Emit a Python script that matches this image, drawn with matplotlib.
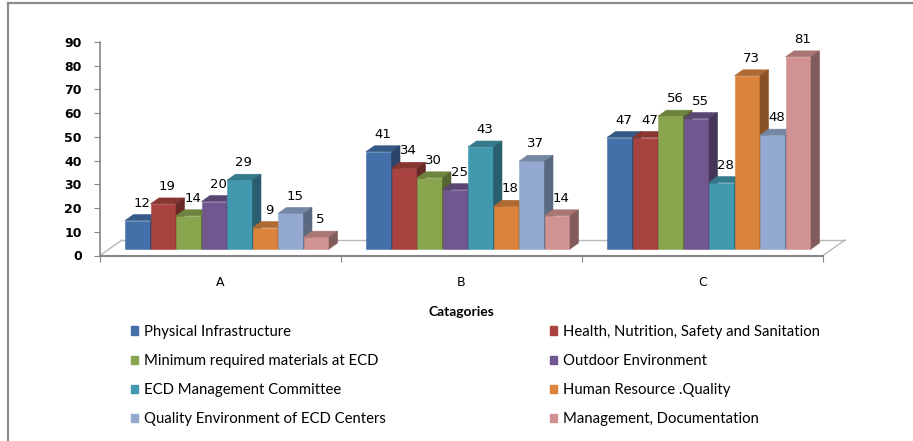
import numpy as np
import matplotlib
matplotlib.use('Agg')
import matplotlib.pyplot as plt
from matplotlib.patches import Polygon, Patch
from matplotlib.lines import Line2D
from matplotlib.colors import to_rgb

categories = ['A', 'B', 'C']
series_names = ['Physical Infrastructure',
                'Health, Nutrition, Safety and Sanitation',
                'Minimum required materials at ECD',
                'Outdoor Environment',
                'ECD Management Committee',
                'Human Resource .Quality',
                'Quality Environment of ECD Centers',
                'Management, Documentation']
physical = [12, 41, 47]
health = [19, 34, 47]
materials = [14, 30, 56]
outdoor = [20, 25, 55]
committee = [29, 43, 28]
human_resource = [9, 18, 73]
quality_env = [15, 37, 48]
management = [5, 14, 81]
series_values = [physical, health, materials, outdoor,
                 committee, human_resource, quality_env, management]
series_colors = ['#4470A9', '#A9433F', '#89A54E', '#70578F',
                 '#4198AF', '#DB843D', '#93A9CF', '#D19392']

# figure layout, in pixels
W, H = 913, 441
AX_L, AX_R, AX_T, AX_B = 100, 823, 42, 255.5
YMAX = 90
px_x = (AX_R - AX_L) / len(categories)
px_y = (AX_B - AX_T) / YMAX

bar_w = 25.5 / px_x
group_start = 25 / px_x
base = 6.5 / px_y
dep_x, dep_y = 8.5 / px_x, 6 / px_y
floor_dx, floor_dy = 22 / px_x, 15.5 / px_y


def shade(c, k):
    r, g, b = to_rgb(c)
    return (r * k, g * k, b * k)


fig = plt.figure(figsize=(W / 100, H / 100), dpi=100)
ax = fig.add_axes([AX_L / W, (H - AX_B) / H, (AX_R - AX_L) / W, (AX_B - AX_T) / H])
ax.set_xlim(0, len(categories))
ax.set_ylim(0, YMAX)

# floor of the 3d box
n = len(categories)
floor_kw = dict(color='#b8b8b8', lw=1, clip_on=False, zorder=1)
ax.plot([floor_dx, n + floor_dx], [floor_dy, floor_dy], **floor_kw)
ax.plot([0, floor_dx], [0, floor_dy], **floor_kw)
ax.plot([n, n + floor_dx], [0, floor_dy], **floor_kw)

for j in range(n):
    for i, vals in enumerate(series_values):
        v = vals[j]
        c = series_colors[i]
        x0 = j + group_start + i * bar_w
        y0, y1 = base, base + v
        front = [(x0, y0), (x0 + bar_w, y0), (x0 + bar_w, y1), (x0, y1)]
        top = [(x0, y1), (x0 + bar_w, y1), (x0 + bar_w + dep_x, y1 + dep_y), (x0 + dep_x, y1 + dep_y)]
        side = [(x0 + bar_w, y0), (x0 + bar_w + dep_x, y0 + dep_y),
                (x0 + bar_w + dep_x, y1 + dep_y), (x0 + bar_w, y1)]
        for pts, col in ((front, c), (top, shade(c, 0.8)), (side, shade(c, 0.62))):
            ax.add_patch(Polygon(pts, closed=True, facecolor=col, edgecolor=col,
                                 lw=0.4, clip_on=False, zorder=2))
        ax.annotate(str(v), xy=(x0 + bar_w / 2, y1), xytext=(3, 12.5),
                    textcoords='offset points', ha='center', va='center',
                    fontsize=9.5, color='black', zorder=5)

for s in ('top', 'right'):
    ax.spines[s].set_visible(False)
ax.spines['left'].set_color('#868686')
ax.spines['bottom'].set_color('#868686')
ax.spines['left'].set_linewidth(1.2)
ax.spines['bottom'].set_linewidth(1.5)

ax.set_yticks(np.arange(0, YMAX + 1, 10))
ax.tick_params(axis='y', direction='out', length=4, color='#868686', pad=9,
               labelsize=9)
for lab in ax.get_yticklabels():
    lab.set_fontweight('bold')

ax.set_xticks(np.arange(n + 1))
ax.set_xticklabels([])
ax.set_xticks(np.arange(n) + 0.5, minor=True)
ax.set_xticklabels(categories, minor=True, fontsize=9)
ax.tick_params(axis='x', which='major', direction='out', length=4, color='#868686')
ax.tick_params(axis='x', which='minor', length=0, pad=15)

ax.set_xlabel('Catagories', fontsize=10, fontweight='bold', family=['Lato', 'DejaVu Sans'])
ax.xaxis.set_label_coords(0.5, -(312 - AX_B) / (AX_B - AX_T))
ax.xaxis.label.set_va('center')

# legend reads across rows, so feed it column by column
order = list(range(0, 8, 2)) + list(range(1, 8, 2))
handles = [Patch(facecolor=series_colors[k], edgecolor=series_colors[k]) for k in order]
labels = [series_names[k] for k in order]
fig.legend(handles, labels, ncol=2, loc='upper left',
           bbox_to_anchor=(131 / W, 1 - 325 / H), frameon=False,
           prop={'family': ['Lato', 'DejaVu Sans'], 'size': 10.7},
           handlelength=0.5, handleheight=0.5, handletextpad=0.4,
           labelspacing=1.02, columnspacing=11.0, borderpad=0, borderaxespad=0)

# outer frame lines
fig.add_artist(Line2D([8 / W, 8 / W], [0, 1 - 2.5 / H], transform=fig.transFigure,
                      color='#8c8c8c', lw=1.6))
fig.add_artist(Line2D([8 / W, 1], [1 - 2.5 / H, 1 - 2.5 / H], transform=fig.transFigure,
                      color='#8c8c8c', lw=1.6))

fig.savefig('out.png', dpi=100)
